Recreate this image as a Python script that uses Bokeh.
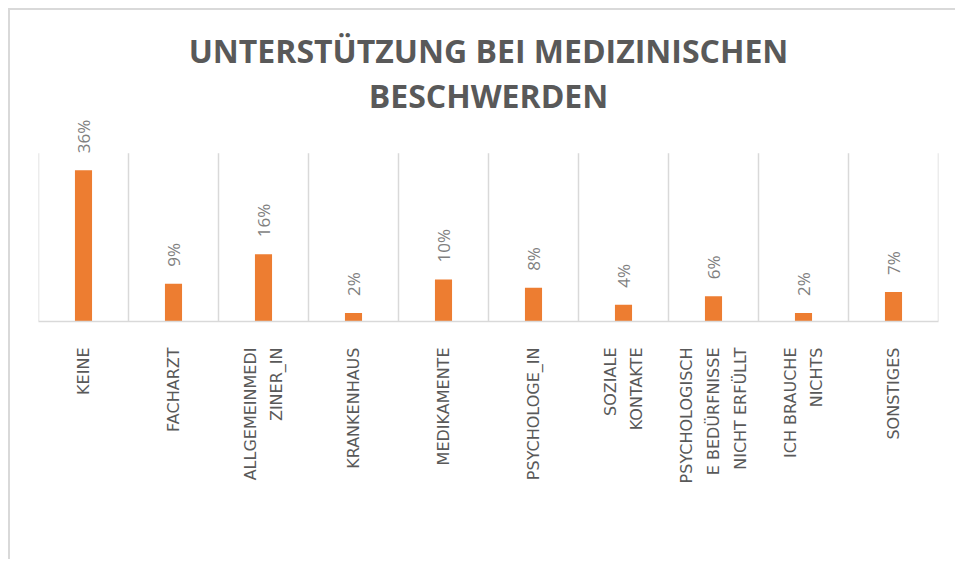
import numpy as np
from bokeh.plotting import figure
from bokeh.models import Range1d, FixedTicker, ColumnDataSource, Title
from bokeh.embed import file_html
from bokeh.resources import INLINE

# ---- data ----
categories = ["KEINE", "FACHARZT", "ALLGEMEINMEDI\nZINER_IN", "KRANKENHAUS", "MEDIKAMENTE",
              "PSYCHOLOGE_IN", "SOZIALE\nKONTAKTE", "PSYCHOLOGISCH\nE BEDÜRFNISSE\nNICHT ERFÜLLT",
              "ICH BRAUCHE\nNICHTS", "SONSTIGES"]
values = [0.36, 0.09, 0.16, 0.02, 0.10, 0.08, 0.04, 0.06, 0.02, 0.07]
value_labels = ["36%", "9%", "16%", "2%", "10%", "8%", "4%", "6%", "2%", "7%"]
title_lines = ["UNTERSTÜTZUNG BEI MEDIZINISCHEN", "BESCHWERDEN"]
axis_max = 0.40

n = len(categories)
centers = [i + 0.5 for i in range(n)]
bounds = [float(i) for i in range(n + 1)]

src = ColumnDataSource(dict(x=centers, top=values, lab=value_labels))

p = figure(width=947, height=551, output_backend="svg", toolbar_location=None,
           x_range=Range1d(0, n), y_range=Range1d(0, 0.49),
           min_border_left=28, min_border_right=19, min_border_top=105, min_border_bottom=240,
           background_fill_color="white", border_fill_color="white", title=None)
p.outline_line_color = None
p.styles = {"margin-left": "8px", "margin-top": "8px",
            "border-top": "2px solid #d9d9d9", "border-left": "2px solid #d9d9d9"}

# title lines: first added sits nearest the plot frame
for txt, so in [(title_lines[1], -2), (title_lines[0], 1)]:
    t = Title(text=txt, align="center", text_font="Open Sans", text_font_size="32px",
              text_font_style="bold", text_color="#595959", standoff=so)
    p.add_layout(t, "above")

p.xgrid.visible = False
p.ygrid.visible = False
p.yaxis.visible = False

# category separators
p.segment(x0=bounds, y0=[0] * len(bounds), x1=bounds, y1=[axis_max] * len(bounds),
          line_color="#d9d9d9", line_width=1.5)

p.vbar(x="x", top="top", width=0.19, source=src, fill_color="#ED7D31", line_color=None)

p.text(x="x", y="top", text="lab", source=src, angle=np.pi / 2, text_align="left",
       text_baseline="middle", y_offset=-17, text_font={"value": "Open Sans"},
       text_font_size="17px", text_color="#7f7f7f")

ax = p.xaxis[0]
ax.ticker = FixedTicker(ticks=centers)
ax.major_label_overrides = {c: lab for c, lab in zip(centers, categories)}
ax.major_label_orientation = np.pi / 2
ax.major_tick_line_color = None
ax.minor_tick_line_color = None
ax.major_tick_out = 0
ax.major_tick_in = 0
ax.axis_line_color = "#d9d9d9"
ax.axis_line_width = 1.5
ax.major_label_standoff = 26
ax.major_label_text_font = "DejaVu Sans"
ax.major_label_text_font_size = "16px"
ax.major_label_text_color = "#595959"
ax.major_label_text_line_height = 1.4

open("out.html", "w").write(file_html(p, INLINE))
